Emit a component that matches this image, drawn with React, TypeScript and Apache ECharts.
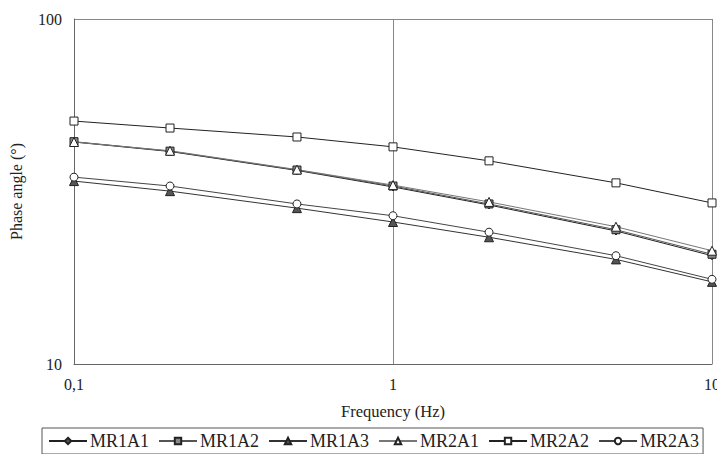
import React, { useEffect, useRef } from "react";
import * as echarts from "echarts";

const frequencies = [0.1, 0.2, 0.5, 1, 2, 5, 10];
const seriesNames = ["MR1A1", "MR1A2", "MR1A3", "MR2A1", "MR2A2", "MR2A3"];
const mr1a1 = [44.0, 41.3, 36.4, 32.6, 28.9, 24.3, 20.6];
const mr1a2 = [44.1, 41.4, 36.5, 32.8, 29.1, 24.5, 20.8];
const mr1a3 = [33.9, 31.7, 28.3, 25.8, 23.3, 20.1, 17.3];
const mr2a1 = [44.0, 41.5, 36.6, 33.0, 29.5, 25.0, 21.3];
const mr2a2 = [50.6, 48.3, 45.5, 42.6, 38.8, 33.5, 29.3];
const mr2a3 = [34.8, 32.8, 29.1, 26.9, 24.1, 20.6, 17.6];
const allValues = [mr1a1, mr1a2, mr1a3, mr2a1, mr2a2, mr2a3];
const xTickLabels: Record<string, string> = { "0.1": "0,1", "1": "1", "10": "10" };

const symbols = ["diamond", "rect", "triangle", "triangle", "rect", "circle"];
const fills = ["#555", "#888", "#555", "#fff", "#fff", "#fff"];
const lineColors = ["#222", "#555", "#333", "#777", "#222", "#444"];

export default function App() {
  const ref = useRef<HTMLDivElement>(null);
  useEffect(() => {
    const chart = echarts.init(ref.current!, null, { renderer: "svg" });
    const font = "Liberation Serif";
    chart.setOption({
      animation: false,
      backgroundColor: "#fff",
      textStyle: { fontFamily: font },
      grid: { left: 73, right: 13, top: 19, bottom: 98 },
      xAxis: {
        type: "log",
        logBase: 10,
        min: 0.1,
        max: 10,
        name: "Frequency (Hz)",
        nameLocation: "middle",
        nameGap: 39,
        nameTextStyle: { fontFamily: font, fontSize: 16.5, color: "#222" },
        axisLine: { lineStyle: { color: "#666", width: 1 } },
        axisTick: { show: false },
        axisLabel: {
          fontFamily: font,
          fontSize: 16,
          color: "#222",
          margin: 12,
          formatter: (v: number) => xTickLabels[String(v)] ?? String(v),
        },
        splitLine: { show: true, lineStyle: { color: "#888", width: 1 } },
      },
      yAxis: {
        type: "log",
        logBase: 10,
        min: 10,
        max: 100,
        name: "Phase angle (°)",
        nameLocation: "middle",
        nameGap: 50,
        nameTextStyle: { fontFamily: font, fontSize: 16, color: "#222" },
        axisLine: { show: true, lineStyle: { color: "#666", width: 1 } },
        axisTick: { show: false },
        axisLabel: { fontFamily: font, fontSize: 16, color: "#222", margin: 12 },
        splitLine: { show: true, lineStyle: { color: "#888", width: 1 } },
      },
      legend: {
        left: 42,
        top: 428,
        itemGap: 9,
        itemWidth: 38,
        itemHeight: 8,
        padding: [4, 4, 4, 6],
        borderColor: "#555",
        borderWidth: 1,
        textStyle: { fontFamily: font, fontSize: 18, color: "#222", padding: [0, 0, 0, -2] },
        data: seriesNames,
      },
      series: seriesNames.map((name, i) => ({
        name,
        type: "line",
        data: frequencies.map((f, j) => [f, allValues[i][j]]),
        symbol: symbols[i],
        symbolSize: i === 2 || i === 3 ? 9 : 8,
        lineStyle: { color: lineColors[i], width: 1 },
        itemStyle: { color: fills[i], borderColor: "#222", borderWidth: 1 },
      })),
    });
    return () => chart.dispose();
  }, []);
  return <div ref={ref} style={{ width: 725, height: 462, margin: -8 }} />;
}
